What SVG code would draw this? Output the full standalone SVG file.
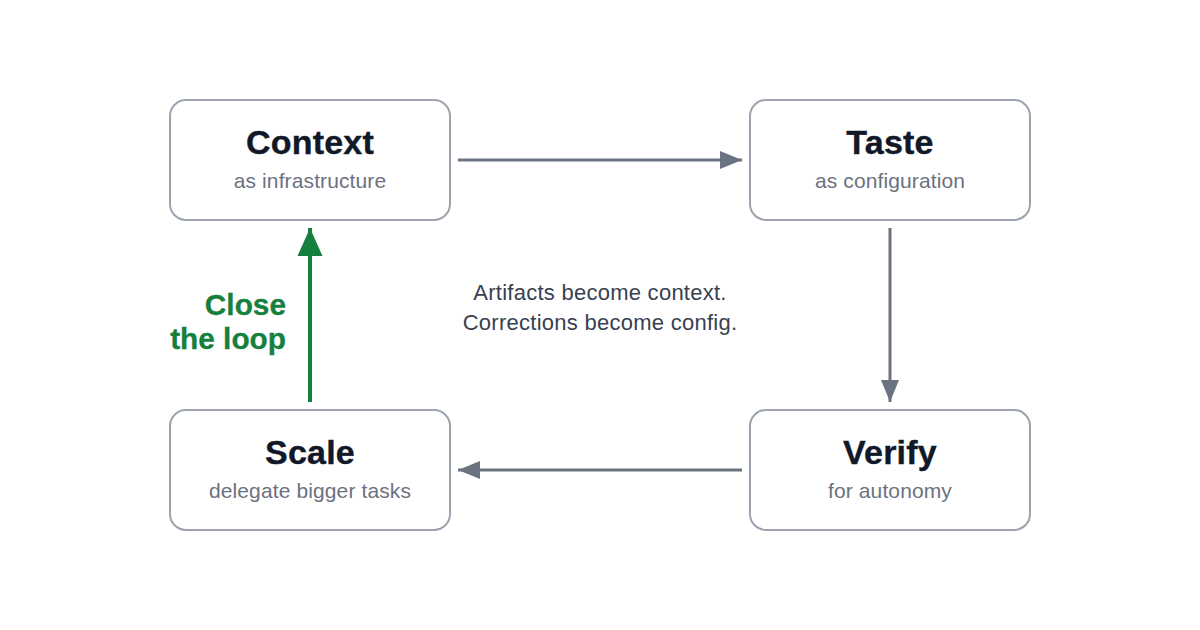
<svg xmlns="http://www.w3.org/2000/svg" width="1200" height="630" viewBox="0 0 1200 630">
<style>
text{font-family:"Liberation Sans",Arial,sans-serif;text-anchor:middle}
.box{fill:#fff;stroke:#9ca3af;stroke-width:2}
.t{font-size:34px;font-weight:700;fill:#111827;stroke:#111827;stroke-width:.4px;letter-spacing:.2px}
.s{font-size:21px;fill:#6b7280;letter-spacing:.12px}
.n{font-size:22px;fill:#374151;letter-spacing:.26px}
.g{font-size:29.800px;font-weight:700;fill:#15803d;stroke:#15803d;stroke-width:.3px;text-anchor:end}
.c{stroke:#6b7280;stroke-width:3;fill:none}
.cg{stroke:#15803d;stroke-width:4;fill:none}
</style>
<defs>
<marker id="a" markerUnits="userSpaceOnUse" markerWidth="22" markerHeight="20" refX="22" refY="10" orient="auto"><polygon points="0,1 22,10 0,19" fill="#6b7280"/></marker>
<marker id="ag" markerUnits="userSpaceOnUse" markerWidth="28" markerHeight="26" refX="28" refY="13" orient="auto"><polygon points="0,0.5 28,13 0,25.500" fill="#15803d"/></marker>
</defs>
<rect width="1200" height="630" fill="#fff"/>
<g id="connectors">
<line class="c" x1="458" y1="160" x2="742" y2="160" marker-end="url(#a)"/>
<line class="c" x1="890" y1="228" x2="890" y2="402" marker-end="url(#a)"/>
<line class="c" x1="742" y1="470" x2="458" y2="470" marker-end="url(#a)"/>
<line class="cg" x1="310" y1="402" x2="310" y2="228" marker-end="url(#ag)"/>
</g>
<g id="context"><rect class="box" x="170" y="100" width="280" height="120" rx="16"/><text class="t" x="310" y="154">Context</text><text class="s" x="310" y="188">as infrastructure</text></g>
<g id="taste"><rect class="box" x="750" y="100" width="280" height="120" rx="16"/><text class="t" x="890" y="154">Taste</text><text class="s" x="890" y="188">as configuration</text></g>
<g id="verify"><rect class="box" x="750" y="410" width="280" height="120" rx="16"/><text class="t" x="890" y="464">Verify</text><text class="s" x="890" y="498">for autonomy</text></g>
<g id="scale"><rect class="box" x="170" y="410" width="280" height="120" rx="16"/><text class="t" x="310" y="464">Scale</text><text class="s" x="310" y="498">delegate bigger tasks</text></g>
<g id="center-note"><text class="n" x="600" y="300">Artifacts become context.</text><text class="n" x="600" y="330">Corrections become config.</text></g>
<g id="loop-label"><text class="g" x="286" y="315">Close</text><text class="g" x="286" y="349">the loop</text></g>
</svg>
